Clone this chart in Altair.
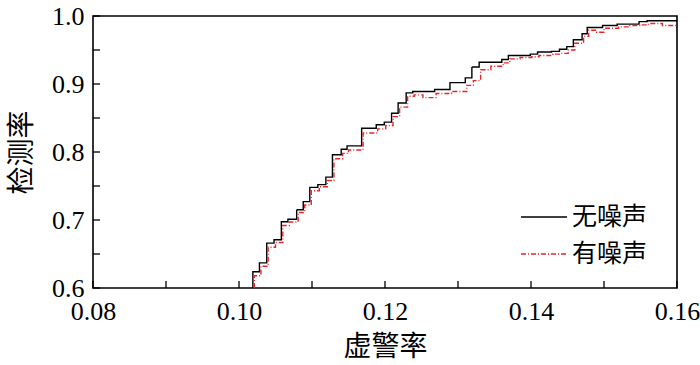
import altair as alt
import pandas as pd

series_names = ["无噪声", "有噪声"]

x_black = [0.1019, 0.1019, 0.1028, 0.1038, 0.1048, 0.1058, 0.1067, 0.1079, 0.1088,
           0.1097, 0.1108, 0.1119, 0.1128, 0.1140, 0.1148, 0.1168, 0.1188, 0.1199,
           0.1209, 0.1218, 0.1229, 0.1238, 0.1268, 0.1289, 0.1310, 0.1319, 0.1329,
           0.1360, 0.1369, 0.1399, 0.1409, 0.1428, 0.1439, 0.1449, 0.1458, 0.1470,
           0.1477, 0.1498, 0.1518, 0.1548, 0.1559, 0.1600]
y_black = [0.600, 0.624, 0.637, 0.666, 0.671, 0.6975, 0.701, 0.715, 0.727,
           0.748, 0.752, 0.763, 0.796, 0.804, 0.809, 0.835, 0.840, 0.844,
           0.857, 0.872, 0.887, 0.889, 0.892, 0.902, 0.909, 0.925, 0.932,
           0.936, 0.942, 0.944, 0.947, 0.948, 0.951, 0.955, 0.965, 0.974,
           0.983, 0.986, 0.988, 0.9917, 0.993, 0.993]

x_red = [0.1021, 0.1021, 0.1030, 0.1040, 0.1050, 0.1060, 0.1069, 0.1081, 0.1090,
         0.1099, 0.1110, 0.1121, 0.1130, 0.1142, 0.1150, 0.1170, 0.1190, 0.1201,
         0.1211, 0.1220, 0.1231, 0.1240, 0.1252, 0.1270, 0.1291, 0.1312, 0.1321,
         0.1331, 0.1345, 0.1362, 0.1371, 0.1385, 0.1401, 0.1411, 0.1430, 0.1441,
         0.1451, 0.1460, 0.1472, 0.1479, 0.1490, 0.1500, 0.1520, 0.1535, 0.1550,
         0.1561, 0.1580, 0.1600]
y_red = [0.600, 0.618, 0.632, 0.660, 0.667, 0.692, 0.697, 0.711, 0.722,
         0.743, 0.749, 0.758, 0.790, 0.798, 0.803, 0.828, 0.834, 0.839,
         0.852, 0.866, 0.882, 0.884, 0.880, 0.886, 0.889, 0.898, 0.905,
         0.921, 0.926, 0.931, 0.937, 0.939, 0.940, 0.942, 0.944, 0.945,
         0.950, 0.960, 0.970, 0.979, 0.976, 0.982, 0.984, 0.986, 0.987,
         0.989, 0.986, 0.986]

x_ticks = [0.08, 0.09, 0.10, 0.11, 0.12, 0.13, 0.14, 0.15, 0.16]
y_ticks = [0.60, 0.65, 0.70, 0.75, 0.80, 0.85, 0.90, 0.95, 1.00]
x_labels = [0.08, 0.10, 0.12, 0.14, 0.16]
y_labels = [0.6, 0.7, 0.8, 0.9, 1.0]

rows = []
for i, (a, b) in enumerate(zip(x_black, y_black)):
    rows.append({"x": a, "y": b, "s": series_names[0], "i": i})
for i, (a, b) in enumerate(zip(x_red, y_red)):
    rows.append({"x": a, "y": b, "s": series_names[1], "i": i})
df = pd.DataFrame(rows)

W, H = 584, 272
xscale = alt.Scale(domain=[0.08, 0.16], nice=False, zero=False)
yscale = alt.Scale(domain=[0.6, 1.0], nice=False, zero=False)

serif = "Liberation Serif"
cjk = "Noto Sans CJK SC"

xaxis = alt.Axis(title="虚警率", values=x_labels, format=".2f", ticks=False,
                 domain=False, grid=False, labelFont=serif, labelFontSize=26,
                 labelPadding=10, titleFont=cjk, titleFontSize=28,
                 titleFontWeight="normal", titlePadding=9, labelFlush=False)
yaxis = alt.Axis(title="检测率", values=y_labels, format=".1f", ticks=False,
                 domain=False, grid=False, labelFont=serif, labelFontSize=26,
                 labelPadding=9, titleFont=cjk, titleFontSize=28,
                 titleFontWeight="normal", titlePadding=15, labelFlush=False)

legend = alt.Legend(title=None, orient="none", legendX=427, legendY=177,
                    symbolType="stroke", symbolSize=2116, symbolStrokeWidth=1.5,
                    labelFont=cjk, labelFontSize=25, labelColor="black",
                    labelOffset=4, rowPadding=-18, padding=0)

lines = alt.Chart(df).mark_line(interpolate="step-after", strokeWidth=1.4, clip=True).encode(
    x=alt.X("x:Q", scale=xscale, axis=xaxis),
    y=alt.Y("y:Q", scale=yscale, axis=yaxis),
    color=alt.Color("s:N", scale=alt.Scale(domain=series_names, range=["#000000", "#e8262a"]),
                    legend=legend),
    strokeDash=alt.StrokeDash("s:N", scale=alt.Scale(domain=series_names,
                                                     range=[[1, 0], [5, 2, 1, 2]]),
                              legend=legend),
    order=alt.Order("i:Q"),
)

xt = alt.Chart(pd.DataFrame({"v": x_ticks})).mark_rule(color="black", strokeWidth=1.3).encode(
    x=alt.X("v:Q", scale=xscale, axis=xaxis),
    y=alt.value(H), y2=alt.value(H - 7),
)
yt = alt.Chart(pd.DataFrame({"v": y_ticks})).mark_rule(color="black", strokeWidth=1.3).encode(
    y=alt.Y("v:Q", scale=yscale, axis=yaxis),
    x=alt.value(0), x2=alt.value(7),
)

chart = alt.layer(lines, xt, yt).properties(
    width=W, height=H,
    autosize=alt.AutoSizeParams(type="none"),
    padding={"left": 93, "top": 16, "right": 23, "bottom": 77},
).configure_view(stroke="black", strokeWidth=1.6).configure_axis(
    labelColor="black", titleColor="black", labelFont=serif, labelFontSize=26,
    titleFont=cjk, titleFontSize=28, titleFontWeight="normal"
)

chart.save("out.html", embed_options={"renderer": "svg", "actions": False})
